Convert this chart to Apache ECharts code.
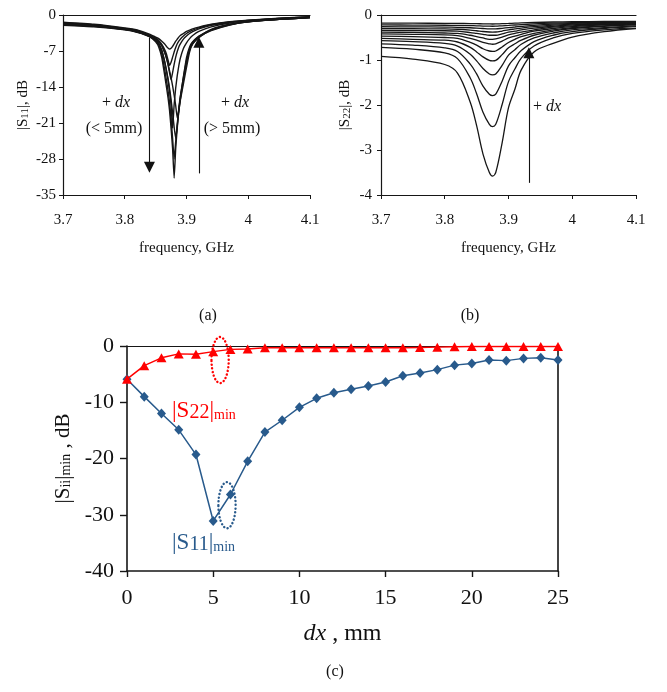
<!DOCTYPE html>
<html>
<head>
<meta charset="utf-8">
<script src="https://cdn.jsdelivr.net/npm/echarts@6/dist/echarts.min.js"></script>
<style>
  html, body { margin: 0; padding: 0; background: #fff; }
  #chart { width: 667px; height: 692px; }
</style>
</head>
<body>
<div id="chart"></div>
<script>
// ---- (a) |S11| versus frequency, one curve per offset dx ----
const freqS11 = [3.70, 3.75, 3.80, 3.82, 3.84, 3.85, 3.855, 3.86, 3.865, 3.8675, 3.87, 3.8725, 3.875, 3.8775,
                 3.88, 3.8825, 3.885, 3.8875, 3.89, 3.895, 3.90, 3.905, 3.91, 3.92, 3.94, 3.97, 4.00, 4.05, 4.10];
const s11Curve1 = [-1.4, -1.8, -2.5, -2.9, -3.7, -4.3, -4.6, -5.1, -5.7, -6.1, -6.4, -6.6, -6.45, -6.1, -5.6, -5.1, -4.7, -4.3, -4.0, -3.6, -3.2, -2.95, -2.7, -2.35, -1.8, -1.3, -1.0, -0.6, -0.35];
const s11Curve2 = [-1.5, -1.9, -2.6, -3.0, -3.9, -4.5, -5.0, -5.7, -6.8, -7.6, -8.7, -9.8, -9.2, -8.2, -7.2, -6.3, -5.6, -5.1, -4.7, -4.1, -3.6, -3.25, -2.95, -2.5, -1.9, -1.35, -1.05, -0.65, -0.38];
const s11Curve3 = [-1.6, -2.0, -2.7, -3.1, -4.0, -4.7, -5.2, -6.0, -7.4, -8.3, -9.6, -11.2, -12.6, -11.2, -9.6, -8.2, -7.1, -6.2, -5.6, -4.7, -4.1, -3.6, -3.25, -2.7, -2.0, -1.4, -1.08, -0.68, -0.4];
const s11Curve4 = [-1.8, -2.1, -2.8, -3.2, -4.2, -4.9, -5.6, -6.9, -9.2, -10.8, -12.6, -14.8, -17.6, -22.0, -17.4, -14.2, -11.8, -9.9, -8.4, -6.5, -5.4, -4.6, -4.0, -3.2, -2.3, -1.55, -1.15, -0.74, -0.46];
const s11Curve5 = [-2.0, -2.3, -2.9, -3.35, -4.2, -5.2, -6.2, -8.3, -12.0, -14.0, -16.0, -18.5, -22.0, -26.0, -31.7, -26.0, -22.0, -18.5, -16.0, -12.0, -8.3, -6.2, -5.2, -4.2, -2.8, -1.8, -1.28, -0.82, -0.52];
const s11Curve6 = [-1.9, -2.2, -2.85, -3.3, -4.1, -5.0, -5.8, -7.6, -10.8, -12.7, -14.6, -17.0, -20.2, -24.0, -28.0, -24.6, -21.2, -18.2, -15.8, -12.2, -8.9, -6.8, -5.6, -4.4, -2.9, -1.85, -1.3, -0.83, -0.52];
const s11Curve7 = [-1.8, -2.15, -2.8, -3.25, -4.0, -4.8, -5.5, -6.9, -9.3, -10.8, -12.3, -14.2, -16.4, -19.0, -21.8, -24.0, -21.6, -18.8, -16.4, -12.6, -9.4, -6.6, -5.3, -4.1, -2.95, -1.9, -1.32, -0.84, -0.52];
const s11Curve8 = [-1.7, -2.1, -2.75, -3.2, -3.9, -4.5, -5.0, -5.9, -7.4, -8.4, -9.5, -10.8, -12.2, -13.8, -15.6, -17.6, -20.0, -18.6, -16.6, -13.4, -10.2, -7.2, -5.6, -4.3, -3.05, -1.95, -1.33, -0.85, -0.5];
const s11Curves = [s11Curve1, s11Curve2, s11Curve3, s11Curve4, s11Curve5, s11Curve6, s11Curve7, s11Curve8];

// ---- (b) |S22| versus frequency ----
const freqS22 = [3.70, 3.75, 3.80, 3.82, 3.84, 3.85, 3.86, 3.87, 3.875, 3.88, 3.89, 3.90, 3.91, 3.92, 3.94, 3.97, 4.00, 4.05, 4.10];
const s22Curve1  = [-0.92, -0.98, -1.10, -1.29, -1.94, -2.46, -3.09, -3.50, -3.58, -3.50, -2.84, -2.06, -1.65, -1.22, -0.82, -0.63, -0.49, -0.37, -0.30];
const s22Curve2  = [-0.72, -0.76, -0.84, -0.97, -1.40, -1.75, -2.16, -2.43, -2.48, -2.43, -1.99, -1.48, -1.20, -0.96, -0.69, -0.51, -0.41, -0.33, -0.28];
const s22Curve3  = [-0.64, -0.67, -0.73, -0.81, -1.09, -1.31, -1.58, -1.76, -1.79, -1.76, -1.47, -1.13, -0.95, -0.79, -0.59, -0.45, -0.37, -0.30, -0.26];
const s22Curve4  = [-0.57, -0.59, -0.63, -0.69, -0.87, -1.02, -1.19, -1.31, -1.33, -1.31, -1.12, -0.89, -0.77, -0.65, -0.51, -0.40, -0.33, -0.28, -0.24];
const s22Curve5  = [-0.52, -0.54, -0.56, -0.60, -0.72, -0.82, -0.93, -1.01, -1.02, -1.01, -0.88, -0.73, -0.64, -0.56, -0.45, -0.36, -0.30, -0.25, -0.22];
const s22Curve6  = [-0.47, -0.48, -0.50, -0.52, -0.61, -0.67, -0.75, -0.80, -0.81, -0.80, -0.71, -0.61, -0.54, -0.48, -0.41, -0.33, -0.28, -0.24, -0.21];
const s22Curve7  = [-0.42, -0.43, -0.44, -0.46, -0.52, -0.56, -0.61, -0.64, -0.65, -0.64, -0.58, -0.51, -0.47, -0.43, -0.36, -0.30, -0.26, -0.22, -0.20];
const s22Curve8  = [-0.38, -0.386, -0.40, -0.41, -0.45, -0.48, -0.51, -0.54, -0.54, -0.53, -0.49, -0.44, -0.41, -0.38, -0.33, -0.27, -0.24, -0.21, -0.19];
const s22Curve9  = [-0.34, -0.344, -0.35, -0.36, -0.39, -0.41, -0.43, -0.45, -0.45, -0.45, -0.42, -0.38, -0.36, -0.33, -0.29, -0.25, -0.22, -0.20, -0.18];
const s22Curve10 = [-0.30, -0.304, -0.31, -0.317, -0.335, -0.35, -0.367, -0.378, -0.38, -0.378, -0.356, -0.33, -0.31, -0.29, -0.26, -0.226, -0.202, -0.184, -0.17];
const s22Curve11 = [-0.26, -0.264, -0.268, -0.273, -0.283, -0.29, -0.30, -0.309, -0.31, -0.309, -0.295, -0.28, -0.267, -0.254, -0.23, -0.204, -0.185, -0.17, -0.16];
const s22Curve12 = [-0.22, -0.224, -0.228, -0.23, -0.236, -0.24, -0.245, -0.249, -0.25, -0.249, -0.24, -0.232, -0.222, -0.214, -0.198, -0.18, -0.168, -0.157, -0.15];
const s22Curve13 = [-0.18, -0.182, -0.184, -0.186, -0.19, -0.193, -0.196, -0.199, -0.20, -0.199, -0.193, -0.188, -0.182, -0.176, -0.167, -0.156, -0.149, -0.144, -0.14];
const s22Curves = [s22Curve1, s22Curve2, s22Curve3, s22Curve4, s22Curve5, s22Curve6, s22Curve7,
                   s22Curve8, s22Curve9, s22Curve10, s22Curve11, s22Curve12, s22Curve13];

// ---- (c) minimum of |S11| and |S22| versus dx ----
const dxMm   = [0, 1, 2, 3, 4, 5, 6, 7, 8, 9, 10, 11, 12, 13, 14, 15, 16, 17, 18, 19, 20, 21, 22, 23, 24, 25];
const s11Min = [-5.9, -9.0, -12.0, -14.9, -19.3, -31.1, -26.4, -20.5, -15.3, -13.2, -10.9, -9.3, -8.3, -7.7, -7.1, -6.4, -5.3, -4.8, -4.2, -3.4, -3.1, -2.5, -2.6, -2.2, -2.1, -2.5];
const s22Min = [-5.9, -3.5, -2.1, -1.4, -1.45, -1.0, -0.6, -0.55, -0.3, -0.3, -0.3, -0.3, -0.3, -0.3, -0.3, -0.3, -0.3, -0.25, -0.2, -0.15, -0.1, -0.1, -0.1, -0.1, -0.1, -0.1];

// Tick values of each axis
const freqTicks = [3.7, 3.8, 3.9, 4.0, 4.1];
const s11Ticks  = [-35, -28, -21, -14, -7, 0];
const s22Ticks  = [-4, -3, -2, -1, 0];
const dxTicks   = [0, 5, 10, 15, 20, 25];
const minTicks  = [-40, -30, -20, -10, 0];

// Trend arrows (data coordinates: start, end)
const s11Arrows = [[[3.84, -4.4], [3.84, -29.6]], [[3.92, -30.8], [3.92, -5.3]]];
const s22Arrows = [[[3.932, -3.73], [3.932, -0.84]]];

// Dotted rings marking dx = 5-6 mm: [centre dx, centre dB, half width mm, half height dB]
const s22Ring = [5.4, -2.5, 0.5, 4.1];
const s11Ring = [5.8, -28.3, 0.5, 4.1];

const SERIF = 'Liberation Serif';
const INK = '#161616';
const RED = '#ff0000';
const BLUE = '#285a8c';

const pairs = (xs, ys) => xs.map((x, i) => [x, ys[i]]);
const stepOf = ticks => +(ticks[1] - ticks[0]).toFixed(4);

function valueAxis(gridIndex, position, ticks, opts) {
  return Object.assign({
    type: 'value', gridIndex, position,
    min: ticks[0], max: ticks[ticks.length - 1], interval: stepOf(ticks),
    axisLine: { show: true, onZero: false, lineStyle: { color: INK, width: 1.2 } },
    axisTick: { show: true, inside: false, length: 4, lineStyle: { color: INK, width: 1 } },
    axisLabel: { color: '#111', fontFamily: SERIF, fontSize: 15, margin: 8 },
    splitLine: { show: false }
  }, opts || {});
}
function frameAxis(gridIndex, position, ticks) {
  return {
    type: 'value', gridIndex, position,
    min: ticks[0], max: ticks[ticks.length - 1], interval: stepOf(ticks),
    axisLine: { show: true, onZero: false, lineStyle: { color: INK, width: 1.2 } },
    axisTick: { show: false }, axisLabel: { show: false }, splitLine: { show: false }
  };
}
const subRich = size => ({ fontFamily: SERIF, fontSize: size, color: '#111', verticalAlign: 'bottom', lineHeight: size + 1 });

function arrowLines(arrows) {
  return {
    silent: true, animation: false,
    symbol: ['none', 'triangle'], symbolSize: 11,
    lineStyle: { color: '#111', width: 1.1, type: 'solid' },
    label: { show: false },
    data: arrows.map(a => [{ coord: a[0] }, { coord: a[1] }])
  };
}

function ringRenderer(color) {
  return (params, api) => {
    const c = api.coord([api.value(0), api.value(1)]);
    const s = api.size([api.value(2), api.value(3)]);
    return {
      type: 'ellipse',
      shape: { cx: c[0], cy: c[1], rx: s[0], ry: s[1] },
      style: { fill: 'none', stroke: color, lineWidth: 2.4, lineDash: [0.1, 3.6], lineCap: 'round' }
    };
  };
}

const series = [];
s11Curves.forEach((curve, i) => {
  series.push({
    type: 'line', xAxisIndex: 0, yAxisIndex: 0, data: pairs(freqS11, curve),
    showSymbol: false, smooth: 0.15, lineStyle: { color: INK, width: 1.4 }, silent: true,
    markLine: i === 0 ? arrowLines(s11Arrows) : undefined
  });
});
s22Curves.forEach((curve, i) => {
  series.push({
    type: 'line', xAxisIndex: 2, yAxisIndex: 1, data: pairs(freqS22, curve),
    showSymbol: false, smooth: 0.35, lineStyle: { color: INK, width: 1.3 }, silent: true,
    markLine: i === 0 ? arrowLines(s22Arrows) : undefined
  });
});
series.push({
  name: '|S11|min', type: 'line', xAxisIndex: 4, yAxisIndex: 2, data: pairs(dxMm, s11Min),
  symbol: 'diamond', symbolSize: [9, 10], lineStyle: { color: BLUE, width: 1.5 },
  itemStyle: { color: BLUE }, silent: true, z: 3
});
series.push({
  name: '|S22|min', type: 'line', xAxisIndex: 4, yAxisIndex: 2, data: pairs(dxMm, s22Min),
  symbol: 'triangle', symbolSize: [10, 9], lineStyle: { color: RED, width: 1.5 },
  itemStyle: { color: RED }, silent: true, z: 4
});
series.push({
  type: 'custom', coordinateSystem: 'cartesian2d', xAxisIndex: 4, yAxisIndex: 2, clip: false,
  silent: true, z: 5, data: [s22Ring], renderItem: ringRenderer(RED)
});
series.push({
  type: 'custom', coordinateSystem: 'cartesian2d', xAxisIndex: 4, yAxisIndex: 2, clip: false,
  silent: true, z: 5, data: [s11Ring], renderItem: ringRenderer(BLUE)
});

const option = {
  animation: false,
  backgroundColor: '#ffffff',
  textStyle: { fontFamily: SERIF },
  grid: [
    { left: 63, top: 15, width: 247, height: 180 },
    { left: 381, top: 15, width: 255, height: 180 },
    { left: 127, top: 346, width: 431, height: 225 }
  ],
  xAxis: [
    valueAxis(0, 'bottom', freqTicks, {
      axisLabel: { color: '#111', fontFamily: SERIF, fontSize: 15, margin: 18 },
      name: 'frequency, GHz', nameLocation: 'middle', nameGap: 46,
      nameTextStyle: { color: '#111', fontFamily: SERIF, fontSize: 15 }
    }),
    frameAxis(0, 'top', freqTicks),
    valueAxis(1, 'bottom', freqTicks, {
      axisLabel: { color: '#111', fontFamily: SERIF, fontSize: 15, margin: 18 },
      name: 'frequency, GHz', nameLocation: 'middle', nameGap: 46,
      nameTextStyle: { color: '#111', fontFamily: SERIF, fontSize: 15 }
    }),
    frameAxis(1, 'top', freqTicks),
    valueAxis(2, 'bottom', dxTicks, {
      axisTick: { show: true, inside: false, length: 6, lineStyle: { color: INK, width: 1.4 } },
      axisLine: { show: true, onZero: false, lineStyle: { color: INK, width: 1.6 } },
      axisLabel: { color: '#111', fontFamily: SERIF, fontSize: 22, margin: 16 },
      name: '{i|dx} , mm', nameLocation: 'middle', nameGap: 51,
      nameTextStyle: { color: '#111', fontFamily: SERIF, fontSize: 24,
        rich: { i: { fontFamily: SERIF, fontSize: 24, fontStyle: 'italic', color: '#111' } } }
    }),
    frameAxis(2, 'top', dxTicks)
  ],
  yAxis: [
    valueAxis(0, 'left', s11Ticks, {
      axisLabel: { color: '#111', fontFamily: SERIF, fontSize: 15, margin: 7 },
      name: '|S{sub|11}|, dB', nameLocation: 'middle', nameGap: 32,
      nameTextStyle: { color: '#111', fontFamily: SERIF, fontSize: 15, rich: { sub: subRich(11) } }
    }),
    valueAxis(1, 'left', s22Ticks, {
      axisLabel: { color: '#111', fontFamily: SERIF, fontSize: 15, margin: 9 },
      name: '|S{sub|22}|, dB', nameLocation: 'middle', nameGap: 28,
      nameTextStyle: { color: '#111', fontFamily: SERIF, fontSize: 15, rich: { sub: subRich(11) } }
    }),
    valueAxis(2, 'left', minTicks, {
      axisTick: { show: true, inside: false, length: 7, lineStyle: { color: INK, width: 1.4 } },
      axisLine: { show: true, onZero: false, lineStyle: { color: INK, width: 1.6 } },
      axisLabel: { color: '#111', fontFamily: SERIF, fontSize: 22, margin: 13 },
      name: '|S{sub|ii}|{sub|min} , dB', nameLocation: 'middle', nameGap: 50,
      nameTextStyle: { color: '#111', fontFamily: SERIF, fontSize: 21, rich: { sub: subRich(14) } }
    }),
    Object.assign(frameAxis(2, 'right', minTicks), {
      axisLine: { show: true, onZero: false, lineStyle: { color: INK, width: 1.6 } }
    })
  ],
  series,
  graphic: [
    { type: 'text', x: 116, y: 103, silent: true, style: {
      text: '+ {i|dx}', fill: '#111', font: '16px "Liberation Serif"', textAlign: 'center', textVerticalAlign: 'middle',
      rich: { i: { fontFamily: SERIF, fontSize: 16, fontStyle: 'italic', fill: '#111' } } } },
    { type: 'text', x: 114, y: 129, silent: true, style: {
      text: '(< 5mm)', fill: '#111', font: '16px "Liberation Serif"', textAlign: 'center', textVerticalAlign: 'middle' } },
    { type: 'text', x: 235, y: 103, silent: true, style: {
      text: '+ {i|dx}', fill: '#111', font: '16px "Liberation Serif"', textAlign: 'center', textVerticalAlign: 'middle',
      rich: { i: { fontFamily: SERIF, fontSize: 16, fontStyle: 'italic', fill: '#111' } } } },
    { type: 'text', x: 232, y: 129, silent: true, style: {
      text: '(> 5mm)', fill: '#111', font: '16px "Liberation Serif"', textAlign: 'center', textVerticalAlign: 'middle' } },
    { type: 'text', x: 533, y: 107, silent: true, style: {
      text: '+ {i|dx}', fill: '#111', font: '16px "Liberation Serif"', textAlign: 'left', textVerticalAlign: 'middle',
      rich: { i: { fontFamily: SERIF, fontSize: 16, fontStyle: 'italic', fill: '#111' } } } },
    { type: 'text', x: 208, y: 316, silent: true, style: {
      text: '(a)', fill: '#111', font: '16px "Liberation Serif"', textAlign: 'center', textVerticalAlign: 'middle' } },
    { type: 'text', x: 470, y: 316, silent: true, style: {
      text: '(b)', fill: '#111', font: '16px "Liberation Serif"', textAlign: 'center', textVerticalAlign: 'middle' } },
    { type: 'text', x: 335, y: 672, silent: true, style: {
      text: '(c)', fill: '#111', font: '16px "Liberation Serif"', textAlign: 'center', textVerticalAlign: 'middle' } },
    { type: 'text', x: 172, y: 411, silent: true, style: {
      text: '|S{n|22}|{m|min}', fill: RED, font: '23px "Liberation Serif"', textAlign: 'left', textVerticalAlign: 'middle',
      rich: { n: { fontFamily: SERIF, fontSize: 20, fill: RED, verticalAlign: 'bottom', lineHeight: 22 },
              m: { fontFamily: SERIF, fontSize: 14, fill: RED, verticalAlign: 'bottom', lineHeight: 15 } } } },
    { type: 'text', x: 172, y: 543, silent: true, style: {
      text: '|S{n|11}|{m|min}', fill: BLUE, font: '23px "Liberation Serif"', textAlign: 'left', textVerticalAlign: 'middle',
      rich: { n: { fontFamily: SERIF, fontSize: 20, fill: BLUE, verticalAlign: 'bottom', lineHeight: 22 },
              m: { fontFamily: SERIF, fontSize: 14, fill: BLUE, verticalAlign: 'bottom', lineHeight: 15 } } } }
  ]
};

const chart = echarts.init(document.getElementById('chart'), null, { renderer: 'canvas' });
chart.setOption(option);
</script>
</body>
</html>
